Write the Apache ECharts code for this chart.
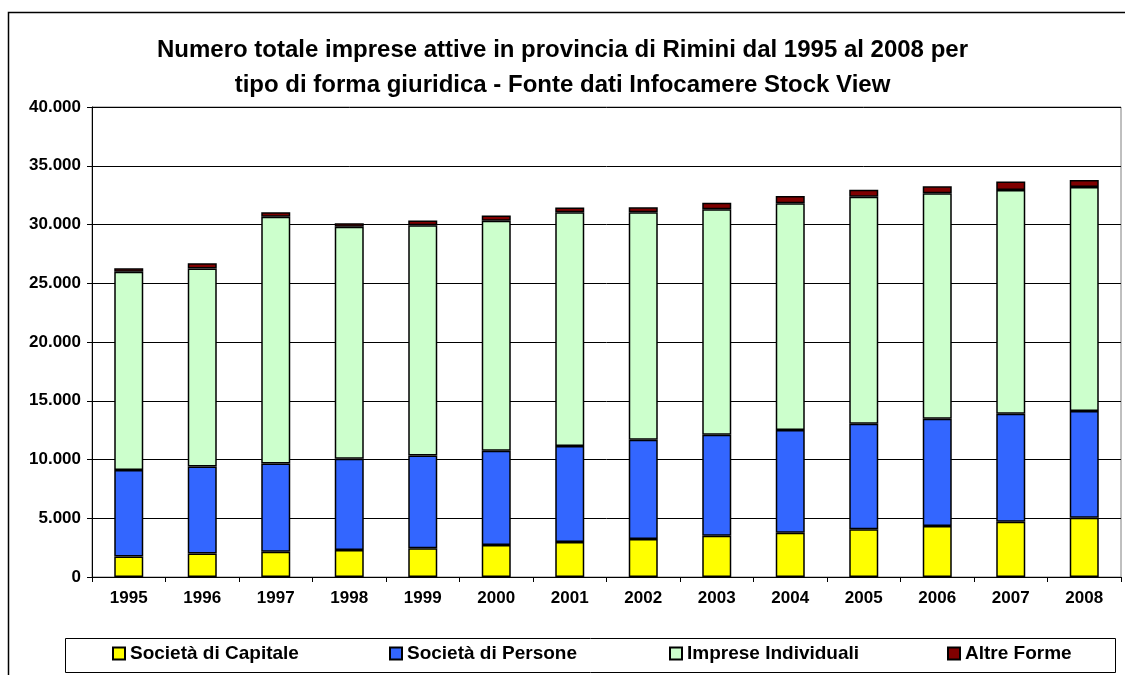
<!DOCTYPE html>
<html>
<head>
<meta charset="utf-8">
<script src="https://cdn.jsdelivr.net/npm/echarts@6/dist/echarts.min.js"></script>
<style>
  html, body { margin: 0; padding: 0; background: #fff; }
  #grafico { width: 1125px; height: 675px; }
</style>
</head>
<body>
<div id="grafico"></div>
<script>
// anni e valori
const anni = ['1995','1996','1997','1998','1999','2000','2001','2002','2003','2004','2005','2006','2007','2008']
const societaCapitale = [1750, 2000, 2150, 2300, 2440, 2720, 2980, 3230, 3520, 3770, 4060, 4340, 4710, 5050]
const societaPersone = [7350, 7400, 7520, 7770, 7890, 8030, 8170, 8460, 8590, 8740, 8990, 9135, 9190, 9080]
const impreseIndividuali = [16885, 16850, 21000, 19745, 19600, 19570, 19890, 19350, 19180, 19290, 19320, 19180, 19040, 19060]
const altreForme = [285, 450, 370, 290, 420, 450, 400, 420, 560, 620, 590, 595, 710, 600]

const nomi = ['Società di Capitale', 'Società di Persone', 'Imprese Individuali', 'Altre Forme']
const colori = ['#FFFF00', '#3366FF', '#CCFFCC', '#800000']
const valori = [societaCapitale, societaPersone, impreseIndividuali, altreForme]
const legendaX = [112, 389, 669, 947]

const font = 'Arial, "Liberation Sans", sans-serif'

const chart = echarts.init(document.getElementById('grafico'))

const formatta = v => v === 0 ? '0' : v.toLocaleString('it-IT').replace(/,/g, '.')

let option = {
  animation: false,
  backgroundColor: '#fff',
  title: {
    text: 'Numero totale imprese attive in provincia di Rimini dal 1995 al 2008 per\ntipo di forma giuridica - Fonte dati Infocamere Stock View',
    left: 'center',
    top: 33,
    padding: 0,
    textStyle: {
      fontFamily: font,
      fontSize: 24,
      fontWeight: 'bold',
      color: '#000',
      lineHeight: 35,
      align: 'center'
    }
  },
  graphic: [
    {
      type: 'rect',
      shape: { x: 8.5, y: 12.5, width: 1140, height: 700 },
      style: { fill: 'none', stroke: '#000', lineWidth: 1.5 },
      silent: true,
      z: -1
    },
    {
      type: 'rect',
      shape: { x: 65.5, y: 638.5, width: 1050, height: 34 },
      style: { fill: '#fff', stroke: '#000', lineWidth: 1 },
      silent: true,
      z: -1
    }
  ],
  legend: nomi.map((n, i) => ({
    data: [n],
    left: legendaX[i],
    top: 644,
    padding: 0,
    itemWidth: 12,
    itemHeight: 12,
    itemGap: 6,
    icon: 'rect',
    textStyle: { fontFamily: font, fontSize: 19, fontWeight: 'bold', color: '#000' }
  })),
  grid: {
    left: 92,
    right: 4,
    top: 107,
    bottom: 98,
    show: true,
    borderColor: '#808080',
    borderWidth: 1
  },
  xAxis: {
    type: 'category',
    data: anni,
    axisLine: { lineStyle: { color: '#000', width: 1 } },
    axisTick: { show: true, length: 5, lineStyle: { color: '#000' } },
    axisLabel: {
      fontFamily: font,
      fontSize: 17,
      fontWeight: 'bold',
      color: '#000',
      margin: 13
    }
  },
  yAxis: {
    type: 'value',
    min: 0,
    max: 40000,
    interval: 5000,
    axisLine: { show: true, lineStyle: { color: '#000', width: 1 } },
    axisTick: { show: true, length: 5, lineStyle: { color: '#000' } },
    splitLine: { lineStyle: { color: '#000', width: 1 } },
    axisLabel: {
      fontFamily: font,
      fontSize: 17,
      fontWeight: 'bold',
      color: '#000',
      margin: 11,
      formatter: formatta
    }
  },
  series: nomi.map((n, i) => ({
    name: n,
    type: 'bar',
    stack: 'totale',
    barWidth: 29,
    data: valori[i],
    itemStyle: {
      color: colori[i],
      borderColor: '#000',
      borderWidth: 1.5
    }
  }))
}

chart.setOption(option)
</script>
</body>
</html>
